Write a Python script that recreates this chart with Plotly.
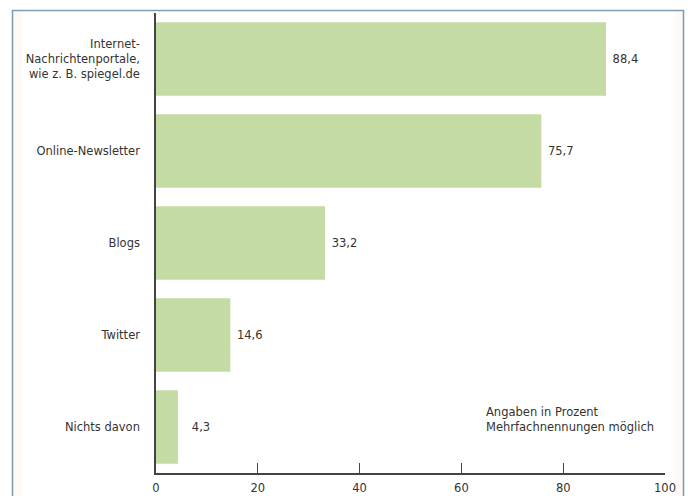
import plotly.graph_objects as go

# Survey data: which online sources are used (percent, multiple answers allowed)
categories = [
    "Internet-<br>Nachrichtenportale,<br>wie z. B. spiegel.de",
    "Online-Newsletter",
    "Blogs",
    "Twitter",
    "Nichts davon",
]
values = [88.4, 75.7, 33.2, 14.6, 4.3]
x_ticks = [0, 20, 40, 60, 80, 100]

FIGURE_SPACE = "\u2007"


def de_label(v):
    # German decimal comma, right-aligned to a four-character width
    s = f"{v:.1f}".replace(".", ",")
    return FIGURE_SPACE * (4 - len(s)) + " " + s


bar_color = "#c4dba4"
axis_color = "#444444"
text_color = "#333333"
frame_color = "#7f9db3"
font_family = "'DejaVu Sans', 'Open Sans', sans-serif"
font_size = 11.5

fig = go.Figure(
    go.Bar(
        x=values,
        y=categories,
        orientation="h",
        marker=dict(color=bar_color, line=dict(width=0)),
        text=[de_label(v) for v in values],
        textposition="outside",
        textfont=dict(size=font_size, color=text_color, family=font_family),
        cliponaxis=False,
        hoverinfo="skip",
    )
)

W, H = 688, 496
ml, mr, mt, mb = 156, 23, 13, 23
pw, ph = W - ml - mr, H - mt - mb


def px(x):
    return (x - ml) / pw


def py(y):
    return 1 - (y - mt) / ph


# outer frame with a pale strip along its inner sides
shapes = [
    dict(type="rect", xref="paper", yref="paper", layer="below",
         x0=px(13), x1=px(683), y0=py(510), y1=py(11),
         fillcolor="#fcf9f7", line=dict(width=0)),
    dict(type="rect", xref="paper", yref="paper", layer="below",
         x0=px(22), x1=px(675), y0=py(510), y1=py(11),
         fillcolor="white", line=dict(width=0)),
    dict(type="rect", xref="paper", yref="paper", layer="above",
         x0=px(12.5), x1=px(683.5), y0=py(520), y1=py(10.5),
         fillcolor="rgba(0,0,0,0)", line=dict(color=frame_color, width=1.6)),
]

fig.update_layout(
    width=W,
    height=H,
    margin=dict(l=ml, r=mr, t=mt, b=mb, pad=0, autoexpand=False),
    paper_bgcolor="white",
    plot_bgcolor="rgba(0,0,0,0)",
    showlegend=False,
    bargap=0.2,
    font=dict(family=font_family, size=font_size, color=text_color),
    shapes=shapes,
    xaxis=dict(
        range=[0, 100],
        tickvals=x_ticks,
        ticktext=[str(t) for t in x_ticks],
        ticks="inside",
        ticklen=10,
        tickwidth=1.2,
        tickcolor=axis_color,
        showline=True,
        linecolor=axis_color,
        linewidth=1.5,
        showgrid=False,
        zeroline=False,
        automargin=False,
        ticklabelstandoff=3,
        tickfont=dict(size=font_size, color=text_color),
        fixedrange=True,
    ),
    yaxis=dict(
        categoryorder="array",
        categoryarray=categories,
        autorange="reversed",
        showline=True,
        linecolor=axis_color,
        linewidth=1.5,
        showgrid=False,
        zeroline=False,
        automargin=False,
        ticks="",
        ticklabelstandoff=12,
        tickfont=dict(size=font_size, color=text_color),
        fixedrange=True,
    ),
    annotations=[
        dict(
            text="Angaben in Prozent<br>Mehrfachnennungen möglich",
            xref="paper", yref="paper",
            x=px(484), y=py(403),
            xanchor="left", yanchor="top",
            align="left", showarrow=False,
            font=dict(size=font_size, color=text_color),
        )
    ],
)

fig.write_html("out.html")
